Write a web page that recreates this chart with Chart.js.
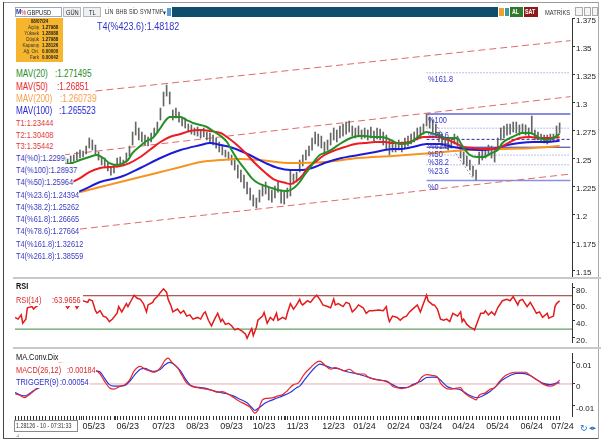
<!DOCTYPE html>
<html><head><meta charset="utf-8">
<script src="https://cdn.jsdelivr.net/npm/chart.js@4.4.1/dist/chart.umd.min.js"></script>
<style>
html,body{margin:0;padding:0;background:#fff;overflow:hidden}
#wrap{position:relative;width:601px;height:441px;background:#fff;overflow:hidden}
#wrap canvas{position:absolute;left:0}
.tx{position:absolute;white-space:pre;transform-origin:0 0;z-index:6}
.bx{position:absolute;z-index:5;box-sizing:border-box}
</style></head><body><div id="wrap">
<canvas id="cMain" width="601" height="280" style="top:8px"></canvas>
<canvas id="cRsi" width="601" height="70" style="top:278px;background:#fff"></canvas>
<canvas id="cMacd" width="601" height="90" style="top:348px;background:#fff"></canvas>
</div>
<script>
// ================= DATA =================
const monthDays   = [43,65,88,110,132,153,175,198,218,240,261,282,304,326,346];
const monthLabels = ['05/23','06/23','07/23','08/23','09/23','10/23','11/23','12/23','01/24','02/24','03/24','04/24','05/24','06/24','07/24'];
const priceTicks  = [1.375,1.35,1.325,1.3,1.275,1.25,1.225,1.2,1.175,1.15];
const rsiTicks    = [80,60,40,20];
const macdTicks   = [0.01,0,-0.01];

// daily bars, sampled every 2 trading days starting at day 30
const candleStartDay = 30, candleStepDays = 2;
const candleHigh = [1.2500,1.2509,1.2491,1.2518,1.2527,1.2554,1.2571,1.2563,1.2607,1.2679,
1.2661,1.2616,1.2554,1.2509,1.2500,1.2455,1.2420,1.2438,1.2500,1.2509,
1.2482,1.2545,1.2607,1.2732,1.2821,1.2768,1.2732,1.2705,1.2688,1.2723,
1.2768,1.2821,1.2946,1.3089,1.3152,1.3089,1.2929,1.2946,1.2911,1.2857,
1.2857,1.2804,1.2795,1.2768,1.2777,1.2750,1.2768,1.2732,1.2723,1.2705,
1.2679,1.2643,1.2616,1.2571,1.2554,1.2527,1.2500,1.2438,1.2393,1.2348,
1.2286,1.2232,1.2170,1.2143,1.2214,1.2259,1.2286,1.2232,1.2214,1.2250,
1.2286,1.2214,1.2196,1.2232,1.2393,1.2357,1.2375,1.2482,1.2527,1.2571,
1.2607,1.2679,1.2732,1.2714,1.2696,1.2643,1.2661,1.2723,1.2768,1.2750,
1.2786,1.2804,1.2821,1.2830,1.2786,1.2768,1.2786,1.2750,1.2768,1.2750,
1.2777,1.2741,1.2768,1.2759,1.2732,1.2705,1.2661,1.2661,1.2634,1.2661,
1.2643,1.2679,1.2696,1.2714,1.2732,1.2768,1.2777,1.2804,1.2893,1.2866,
1.2839,1.2804,1.2732,1.2714,1.2679,1.2670,1.2679,1.2714,1.2696,1.2616,
1.2554,1.2518,1.2482,1.2429,1.2393,1.2554,1.2571,1.2589,1.2616,1.2607,
1.2589,1.2679,1.2768,1.2786,1.2804,1.2804,1.2821,1.2821,1.2795,1.2804,
1.2795,1.2768,1.2875,1.2750,1.2732,1.2714,1.2705,1.2705,1.2714,1.2714,
1.2786,1.2813];
const candleLow = [1.2429,1.2446,1.2429,1.2455,1.2473,1.2482,1.2500,1.2509,1.2536,1.2589,
1.2571,1.2527,1.2482,1.2438,1.2420,1.2384,1.2348,1.2366,1.2420,1.2438,
1.2429,1.2464,1.2518,1.2616,1.2705,1.2661,1.2643,1.2616,1.2607,1.2643,
1.2696,1.2732,1.2839,1.2964,1.3053,1.2982,1.2839,1.2857,1.2821,1.2786,
1.2768,1.2732,1.2714,1.2705,1.2696,1.2679,1.2688,1.2661,1.2634,1.2616,
1.2589,1.2554,1.2527,1.2509,1.2482,1.2438,1.2393,1.2321,1.2286,1.2232,
1.2179,1.2125,1.2071,1.2054,1.2107,1.2161,1.2179,1.2125,1.2107,1.2143,
1.2196,1.2098,1.2089,1.2143,1.2161,1.2268,1.2286,1.2375,1.2429,1.2482,
1.2518,1.2571,1.2625,1.2607,1.2589,1.2554,1.2571,1.2616,1.2661,1.2643,
1.2679,1.2696,1.2714,1.2732,1.2696,1.2679,1.2688,1.2670,1.2679,1.2661,
1.2679,1.2652,1.2670,1.2661,1.2616,1.2571,1.2527,1.2554,1.2554,1.2571,
1.2554,1.2589,1.2607,1.2625,1.2643,1.2661,1.2679,1.2714,1.2786,1.2768,
1.2732,1.2696,1.2643,1.2607,1.2589,1.2571,1.2589,1.2625,1.2607,1.2500,
1.2446,1.2429,1.2393,1.2339,1.2304,1.2446,1.2482,1.2500,1.2527,1.2500,
1.2464,1.2571,1.2661,1.2679,1.2705,1.2714,1.2732,1.2723,1.2705,1.2723,
1.2705,1.2679,1.2714,1.2661,1.2661,1.2643,1.2634,1.2625,1.2643,1.2652,
1.2696,1.2723];

const ma20Days = [30,37,42,48,53,57,61,66,70,73,76,81,85,89,94,97,100,103,107,111,115,120,124,128,133,137,140,144,149,153,157,162,166,170,175,178,181,184,187,191,194,197,200,204,207,211,217,222,226,231,236,240,244,249,255,262,266,273,279,286,288,291,294,299,303,308,312,315,320,324,328,333,336,339,344,348,352];
const ma20 = [1.2438,1.2455,1.2482,1.2509,1.2527,1.2500,1.2455,1.2438,1.2455,1.2482,1.2545,1.2607,1.2652,1.2679,1.2768,1.2830,1.2866,1.2866,1.2866,1.2839,1.2813,1.2795,1.2777,1.2741,1.2696,1.2643,1.2571,1.2482,1.2393,1.2321,1.2277,1.2250,1.2232,1.2214,1.2205,1.2214,1.2241,1.2286,1.2348,1.2420,1.2482,1.2527,1.2545,1.2571,1.2598,1.2634,1.2679,1.2696,1.2696,1.2688,1.2688,1.2679,1.2652,1.2625,1.2634,1.2705,1.2732,1.2705,1.2679,1.2679,1.2634,1.2571,1.2527,1.2509,1.2509,1.2545,1.2571,1.2634,1.2679,1.2705,1.2723,1.2723,1.2705,1.2679,1.2661,1.2679,1.2715];

const ma50Days = [30,37,42,48,55,61,68,74,81,87,94,100,107,113,120,126,133,137,142,149,155,162,168,175,178,181,186,189,194,200,207,213,220,226,233,239,244,249,255,264,270,277,283,290,296,303,309,314,320,326,333,339,346,352];
const ma50 = [1.2250,1.2286,1.2321,1.2375,1.2411,1.2420,1.2429,1.2455,1.2509,1.2571,1.2643,1.2688,1.2714,1.2741,1.2750,1.2741,1.2723,1.2688,1.2634,1.2545,1.2455,1.2366,1.2304,1.2277,1.2268,1.2286,1.2348,1.2411,1.2464,1.2527,1.2571,1.2598,1.2625,1.2634,1.2643,1.2643,1.2634,1.2634,1.2643,1.2688,1.2688,1.2679,1.2643,1.2598,1.2589,1.2580,1.2580,1.2598,1.2643,1.2679,1.2688,1.2679,1.2679,1.2685];

const ma100Days = [30,42,55,68,81,94,107,120,126,133,139,149,162,170,178,186,192,200,211,222,233,244,249,257,266,275,283,292,301,309,318,326,335,344,352];
const ma100 = [1.2165,1.2205,1.2286,1.2330,1.2411,1.2500,1.2571,1.2616,1.2634,1.2616,1.2598,1.2545,1.2455,1.2411,1.2393,1.2393,1.2411,1.2455,1.2500,1.2527,1.2554,1.2580,1.2580,1.2598,1.2625,1.2625,1.2598,1.2580,1.2571,1.2580,1.2616,1.2634,1.2643,1.2643,1.2655];

const ma200Days = [30,42,55,68,81,94,107,120,133,145,158,179,200,222,244,270,292,314,335,352];
const ma200 = [1.2160,1.2196,1.2241,1.2286,1.2330,1.2375,1.2420,1.2464,1.2482,1.2491,1.2482,1.2455,1.2464,1.2500,1.2518,1.2545,1.2571,1.2580,1.2589,1.2607];

// trend channel (T1 lower, T2 middle, T3 upper): start day/value -> end day/value
const trendNames = ['T1','T2','T3'];
const trendStartDay = [42,31,52];
const trendStartVal = [1.1866,1.2527,1.3098];
const trendEndDay = [359,359,359];
const trendEndVal = [1.2357,1.3048,1.3548];

// Fibonacci levels (T4)
const fibStartDay = 266, fibEndDay = 359;
const fibNames  = ['%161.8','%100','%78.6','%61.8','%50','%38.2','%23.6','%0'];
const fibValues = [1.32612,1.28937,1.27664,1.26665,1.25964,1.25262,1.24394,1.2299];
const fibAnchorDays = [267,297];
const fibAnchorVals = [1.28937,1.2299];

const rsiDays = [0,2,4,5,7,8,11,12,13,16,20,23,26,29,32,34,36,38,40,42,44,47,48,50,52,53,55,57,59,61,63,66,67,69,70,72,73,75,77,79,81,83,85,86,89,90,92,94,96,98,99,101,102,105,107,109,111,113,115,118,120,122,123,125,127,129,131,133,134,136,138,140,142,144,147,149,150,152,153,154,156,157,160,161,163,165,167,169,170,173,175,176,178,180,182,184,185,186,189,191,193,195,197,199,202,204,206,207,209,212,214,216,218,220,222,225,227,229,231,235,238,240,241,242,244,247,249,251,253,255,257,260,262,264,266,267,270,271,273,275,277,279,281,283,286,288,289,290,292,294,296,297,299,301,303,304,306,308,310,312,315,318,320,322,325,326,328,331,333,335,337,339,341,344,345,348,349,350,352];
const rsi = [44,42,47,37,42,55.6,57,54,56,60,63,61,63,59,61,55,60,62,55,60.6,64,62,65.6,64,52,49,52,45.6,44,39,42,49,57,50.6,54,60.6,57,64,70.6,67,65.6,60.6,50.6,59,62,65.6,69,74,78.3,74,65.6,57,50.6,54,49,52,45.6,47,42,44,42,49,50.6,40.6,34,42,49,39,42,35.6,37,34,29,30.6,27.3,24,19,27.3,30.6,22.3,32.3,40.6,45.6,50,37,44,40.6,49,40.6,44,42,49,60.6,54,59,65.6,60.6,59,64,62,67,70.6,65.6,59,57,55.6,66,59,60.6,57,62,60.6,50.6,54,59,55.6,49,52,52,53,52,57,45.6,39,45.6,44,40.6,44,45.6,50.6,54,59,50.6,60.6,70.6,64,59,59,54,42,40.6,42,39,49,45.6,50.6,39,42,35.6,32.3,30.6,29,39,49,49,52,47,50.6,47,55.6,64,65.6,64,69,59,64,65.6,57,62,55.6,49,50.6,44,49,43,45.6,57,60.6,63.97];
const rsiUpper = 70, rsiLower = 30;

const macdDays = [0,3,6,10,13,17,22,27,32,37,42,47,52,55,58,61,64,68,71,74,77,81,84,87,90,94,97,99,101,105,108,111,114,118,121,124,128,131,134,139,142,145,149,152,155,157,160,163,167,170,173,176,180,183,187,191,194,197,200,204,207,210,213,216,220,223,226,228,231,235,238,241,244,247,250,253,257,260,263,266,270,273,275,278,281,284,288,290,293,296,298,300,304,307,310,313,317,320,323,326,330,333,336,339,342,346,349,352];
const macd = [-0.0045,-0.0052,-0.0063,-0.0045,-0.0027,0.0010,0.0055,0.0096,0.0094,0.0082,0.0074,0.0068,0.0063,0.0046,0.0011,-0.0017,-0.0024,-0.0010,-0.0003,0.0018,0.0060,0.0081,0.0068,0.0060,0.0054,0.0075,0.0110,0.0119,0.0103,0.0075,0.0039,0.0004,-0.0010,-0.0017,-0.0021,-0.0024,-0.0031,-0.0038,-0.0035,-0.0052,-0.0066,-0.0080,-0.0094,-0.0108,-0.0134,-0.0122,-0.0073,-0.0066,-0.0063,-0.0055,-0.0049,-0.0031,-0.0003,0.0004,0.0046,0.0075,0.0096,0.0105,0.0089,0.0068,0.0075,0.0068,0.0060,0.0068,0.0049,0.0046,0.0046,0.0032,0.0025,0.0018,0.0016,0.0011,-0.0010,-0.0017,-0.0021,-0.0017,-0.0007,0.0004,0.0032,0.0043,0.0039,0.0032,0.0004,-0.0017,-0.0024,-0.0021,-0.0017,-0.0038,-0.0055,-0.0066,-0.0073,-0.0052,-0.0041,-0.0024,-0.0017,0.0011,0.0039,0.0049,0.0054,0.0054,0.0054,0.0039,0.0025,0.0011,-0.0003,-0.0010,-0.0003,0.0018];
const trigDays = [0,6,12,17,22,27,32,36,42,47,52,55,58,61,64,68,71,74,77,81,84,87,90,94,97,100,103,107,110,113,116,120,124,128,132,137,141,145,150,153,155,158,162,165,169,173,178,182,184,187,191,194,197,200,204,207,210,213,216,220,223,227,231,236,240,244,249,253,257,262,266,270,273,276,279,283,288,292,296,299,303,307,311,315,320,324,328,333,337,341,346,350,352];
const trig = [-0.0040,-0.0055,-0.0031,-0.0012,0.0020,0.0065,0.0082,0.0086,0.0080,0.0070,0.0060,0.0055,0.0025,-0.0003,-0.0010,-0.0010,-0.0007,0.0011,0.0039,0.0068,0.0072,0.0063,0.0058,0.0068,0.0089,0.0100,0.0089,0.0060,0.0025,-0.0003,-0.0013,-0.0017,-0.0021,-0.0031,-0.0038,-0.0045,-0.0055,-0.0069,-0.0087,-0.0108,-0.0122,-0.0108,-0.0087,-0.0077,-0.0066,-0.0055,-0.0038,-0.0017,-0.0010,0.0018,0.0054,0.0077,0.0092,0.0086,0.0075,0.0072,0.0068,0.0060,0.0054,0.0049,0.0043,0.0035,0.0025,0.0018,0.0011,-0.0003,-0.0017,-0.0017,-0.0003,0.0011,0.0030,0.0032,0.0030,0.0011,-0.0010,-0.0021,-0.0027,-0.0045,-0.0059,-0.0063,-0.0052,-0.0035,-0.0010,0.0018,0.0039,0.0049,0.0049,0.0039,0.0021,0.0004,-0.0003,0.0004,0.0005];

// ================= FONT =================
const mctx=document.createElement('canvas').getContext('2d');
function wOf(f){ mctx.font='20px '+f; return mctx.measureText('MAV(20):1.271495 WWW').width; }
const regW=wOf('"Liberation Sans", monospace');
let FONT='"Liberation Sans", Arial, sans-serif', squeeze=true;
for (const f of ['"Liberation Sans Narrow"','"Arial Narrow"']) {
  if (wOf(f+', "Liberation Sans", monospace') < regW*0.9) { FONT=f+', sans-serif'; squeeze=false; break; }
}
const TICKFONT = squeeze ? '"Liberation Sans", sans-serif' : FONT;
const TICKSIZE = squeeze ? 8 : 9;

const wrap=document.getElementById('wrap');
function txt(t,left,center,size,color,o={}){
  const d=document.createElement('div'); d.className='tx'; d.textContent=t;
  const lh=o.lh||Math.round(size*1.3);
  Object.assign(d.style,{left:left+'px',top:(center-lh/2)+'px',fontSize:size+'px',lineHeight:lh+'px',color:color,
    fontFamily:o.font||FONT,fontWeight:o.bold?'bold':'normal',background:o.bg===undefined?'#fff':o.bg});
  if(o.w){d.style.width=(squeeze&&!o.font? o.w/0.82 : o.w)+'px';}
  if(o.align){d.style.textAlign=o.align;}
  if(squeeze && !o.font) d.style.transform='scaleX(0.82)';
  wrap.appendChild(d); return d;
}
function box(left,top,w,h,bg,border,z){
  const d=document.createElement('div'); d.className='bx';
  Object.assign(d.style,{left:left+'px',top:top+'px',width:w+'px',height:h+'px',background:bg||'transparent',border:border||'none'});
  if(z!==undefined) d.style.zIndex=z;
  wrap.appendChild(d); return d;
}

// ================= CHARTS =================
const pts=(xs,ys)=>xs.map((x,i)=>({x:x,y:ys[i]}));
const X_MIN=0, X_MAX=360;
const base={responsive:false,maintainAspectRatio:false,animation:false,events:[],
  plugins:{legend:{display:false},tooltip:{enabled:false}}};
function yAxis(min,max,ticks,fmt){
  return {type:'linear',position:'right',min:min,max:max,
    afterBuildTicks:s=>{s.ticks=ticks.map(v=>({value:v}));},
    afterFit:s=>{s.width=29;},
    ticks:{callback:fmt,font:{size:TICKSIZE,family:TICKFONT},color:'#222',padding:1,labelOffset:3,autoSkip:false},
    grid:{drawOnChartArea:false,drawTicks:true,tickLength:3,color:'#333'},
    border:{display:true,color:'#333',width:1}};
}
const xHidden={type:'linear',min:X_MIN,max:X_MAX,display:false,offset:false};

const candleData=candleHigh.map((h,i)=>({x:candleStartDay+i*candleStepDays,y:[candleLow[i],h]}));
const mainSets=[];
mainSets.push({label:'MAV(20)',data:pts(ma20Days,ma20),borderColor:'#239023',borderWidth:2,pointRadius:0,cubicInterpolationMode:'monotone',order:1});
mainSets.push({label:'MAV(50)',data:pts(ma50Days,ma50),borderColor:'#ec1c24',borderWidth:2,pointRadius:0,cubicInterpolationMode:'monotone',order:2});
mainSets.push({label:'MAV(100)',data:pts(ma100Days,ma100),borderColor:'#1c1cd8',borderWidth:2,pointRadius:0,cubicInterpolationMode:'monotone',order:3});
mainSets.push({label:'MAV(200)',data:pts(ma200Days,ma200),borderColor:'#f7931e',borderWidth:2,pointRadius:0,cubicInterpolationMode:'monotone',order:4});
mainSets.push({type:'bar',label:'bars',data:candleData,backgroundColor:'#666',borderWidth:0,barThickness:1,grouped:false,order:6});
trendNames.forEach((n,i)=>mainSets.push({label:n,data:[{x:trendStartDay[i],y:trendStartVal[i]},{x:trendEndDay[i],y:trendEndVal[i]}],
  borderColor:'#e06a6a',borderWidth:1,borderDash:[7,4],pointRadius:0,order:8}));
const fibStyle={'%100':{c:'#5f66d6',w:1.5,d:[]},'%0':{c:'#8a90e6',w:1.5,d:[]},'%50':{c:'#2a2aa0',w:1,d:[]},'%61.8':{c:'#2a2aa0',w:1,d:[3,2]}};
fibNames.forEach((n,i)=>{const st=fibStyle[n]||{c:'#7a80d8',w:1,d:[1,2]};
  mainSets.push({label:n,data:[{x:fibStartDay,y:fibValues[i]},{x:fibEndDay,y:fibValues[i]}],borderColor:st.c,borderWidth:st.w,borderDash:st.d,pointRadius:0,order:9});});
mainSets.push({label:'anchor',data:pts(fibAnchorDays,fibAnchorVals),borderColor:'#999',borderWidth:1,borderDash:[2,2],pointRadius:0,order:9});

const mainChart=new Chart(document.getElementById('cMain'),{type:'line',data:{datasets:mainSets},
  options:Object.assign({},base,{layout:{padding:{left:15,top:10,bottom:10,right:0}},
    scales:{x:xHidden,y:yAxis(1.1429,1.375,priceTicks,v=>String(v))}})});

const rsiChart=new Chart(document.getElementById('cRsi'),{type:'line',data:{datasets:[
  {data:pts(rsiDays,rsi),borderColor:'#e31b1b',borderWidth:1.5,pointRadius:0,tension:0,order:1},
  {data:[{x:X_MIN,y:rsiUpper},{x:X_MAX,y:rsiUpper}],borderColor:'#9c2b2b',borderWidth:1,pointRadius:0,order:2},
  {data:[{x:X_MIN,y:rsiLower},{x:X_MAX,y:rsiLower}],borderColor:'#3e8a3e',borderWidth:1,pointRadius:0,order:2}
]},options:Object.assign({},base,{layout:{padding:{left:15,top:0,bottom:0,right:0}},
  scales:{x:xHidden,y:yAxis(14.3,84.3,rsiTicks,v=>v+'.')}})});

const xTickDays=[];
for(let d=0; d<=352; d+=2) xTickDays.push(d);
monthDays.forEach(d=>{ if(xTickDays.indexOf(d)<0) xTickDays.push(d); });
xTickDays.sort((a,b)=>a-b);

const macdChart=new Chart(document.getElementById('cMacd'),{type:'line',data:{datasets:[
  {data:pts(macdDays,macd),borderColor:'#e8262b',borderWidth:1.2,pointRadius:0,cubicInterpolationMode:'monotone',order:1},
  {data:pts(trigDays,trig),borderColor:'#2637e0',borderWidth:1.2,pointRadius:0,cubicInterpolationMode:'monotone',order:2},
  {data:[{x:X_MIN,y:0},{x:X_MAX,y:0}],borderColor:'#e9aaaa',borderWidth:1,pointRadius:0,order:3}
]},options:Object.assign({},base,{layout:{padding:{left:15,top:0,bottom:0,right:0}},
  scales:{
    x:{type:'linear',min:X_MIN,max:X_MAX,offset:false,position:'bottom',
      afterBuildTicks:s=>{s.ticks=xTickDays.map(v=>({value:v}));},
      afterFit:s=>{s.height=22;},
      ticks:{autoSkip:false,maxRotation:0,minRotation:0,align:'start',labelOffset:1,padding:1,
        font:{size:squeeze?9:10,family:TICKFONT},color:'#222',
        callback:v=>{const i=monthDays.indexOf(v);return i>=0?monthLabels[i]:'';}},
      grid:{drawOnChartArea:false,drawTicks:true,tickLength:4,color:'#333'},
      border:{display:false}},
    y:yAxis(-0.01477,0.01392,macdTicks,v=>String(v))}})});

// ================= OVERLAY TEXT / DECOR =================
box(3,2,596,1,'#9a9a9a'); box(3,2,1,437,'#444'); box(3,438,596,1,'#555'); box(598,2,1,437,'#aaa');
box(13,277,588,2,'#c9c9c9',undefined,7); box(13,347,588,2,'#c9c9c9',undefined,7);
// toolbar
box(15,7,47,10,'#fff','1px solid #9aaab8');
txt('M',16,12,8,'#1f3fa8',{bold:true,bg:'transparent'});
txt('%',21,12,7,'#d02020',{bg:'transparent'});
txt('GBPUSD',27,12,7,'#222',{bg:'transparent'});
box(63,7,18,10,'#eef0f2','1px solid #b0b8c0'); txt('GÜN',66,12,7,'#222',{bg:'transparent'});
box(83,7,18,10,'#eef0f2','1px solid #b0b8c0'); txt('TL',89,12,7,'#222',{bg:'transparent'});
txt('LİN',105,12,6.5,'#333',{bg:'transparent'}); txt('BHB',116,12,6.5,'#333',{bg:'transparent'});
txt('SİD',129,12,6.5,'#333',{bg:'transparent'}); txt('SYM',140,12,6.5,'#333',{bg:'transparent'});
txt('TMP',152,12,6.5,'#333',{bg:'transparent'}); txt('▾',163,12,7,'#333',{bg:'transparent'});
box(167,8,4,8,'#5aa0d8');
box(172,7,326,10,'#0e4e6c');
box(499,8,5,8,'#f0a030'); box(505,8,4,8,'#3a9a9a');
box(510,7,13,10,'#2d7a2d'); txt('AL',512,12,6.5,'#fff',{bg:'transparent',bold:true});
box(524,7,14,10,'#8c1a1a'); txt('SAT',525,12,6.5,'#fff',{bg:'transparent',bold:true});
txt('MATRİKS',545,12,7,'#333',{bg:'transparent'});
box(575,7,8,9,'#f4f4f4','1px solid #aaa'); box(584,7,7,9,'#f4f4f4','1px solid #aaa'); box(592,7,6,9,'#f4f4f4','1px solid #aaa');

// info box
box(16,18,47,44,'#f5b52e');
txt('08/07/24',16,21.5,5.5,'#222',{bg:'transparent',bold:true,w:47,align:'center'});
const infoNames=['Açılış','Yüksek','Düşük','Kapanış','Ağ. Ort.','Fark'];
const infoVals=['1.27988','1.28088','1.27988','1.28126','0.00000','0.00042'];
infoNames.forEach((n,i)=>{ txt(n,16,27.5+i*6,5.5,'#333',{bg:'transparent',w:23,align:'right'});
  txt(infoVals[i],42,27.5+i*6,5.5,'#222',{bg:'transparent',bold:true}); });

txt('T4(%423.6):1.48182',97,26,11,'#3434c8');

// legend rows: white row backgrounds hide the lines beneath, as in the original
const C_G='#2b8a2b', C_R='#e6262b', C_O='#f4a24a', C_B='#2a2ad0', C_T='#e33b3b', C_F='#3b3bc4';
box(15,67,77,12.5,'#fff'); box(15,79.5,73,12.5,'#fff'); box(15,92,80,12.5,'#fff'); box(15,104.5,79,12,'#fff');
txt('MAV(20)',16,73,10,C_G);  txt(':1.271495',55,73,10,C_G);
txt('MAV(50)',16,86,10,C_R);  txt(':1.26851',57,86,10,C_R);
txt('MAV(200)',16,98.5,10,C_O); txt(':1.260739',60,98.5,10,C_O);
txt('MAV(100)',16,110.5,10,C_B); txt(':1.265523',59,110.5,10,C_B);
const tRows=[['T1:1.23444',123,C_T],['T2:1.30408',135,C_T],['T3:1.35442',146.5,C_T],
 ['T4(%0):1.2299',158.5,C_F],['T4(%100):1.28937',170.5,C_F],['T4(%50):1.25964',182.5,C_F],['T4(%23.6):1.24394',195,C_F],
 ['T4(%38.2):1.25262',207.5,C_F],['T4(%61.8):1.26665',219.5,C_F],['T4(%78.6):1.27664',231.5,C_F],
 ['T4(%161.8):1.32612',244,C_F],['T4(%261.8):1.38559',256.5,C_F]];
tRows.forEach(r=>txt(r[0],16,r[1],9,r[2],{lh:12.5}));

const xs=mainChart.scales.x, ys=mainChart.scales.y;
fibNames.forEach((n,i)=>{ const py=8+ys.getPixelForValue(fibValues[i]);
  txt(n,xs.getPixelForValue(fibStartDay)+1,py+6.5,9,'#3535c8',{bg:'transparent'}); });

box(15,281,12,11,'#fff'); box(15,294,68,12,'#fff');
txt('RSI',16,286,9,'#111',{bold:true});
txt('RSI(14)',16,300,9,'#e0282b'); txt(':63.9656',52,300,9,'#e0282b');
box(15,351,43,12,'#fff'); box(15,363,81,12.5,'#fff'); box(15,375.5,75,12,'#fff');
txt('MA.Conv.Dix',16,357,9,'#111');
txt('MACD(26,12)',16,369.5,9,'#e0282b'); txt(':0.00184',67,369.5,9,'#e0282b');
txt('TRIGGER(9)',16,381.5,9,'#2a2ad0'); txt(':0.00054',60,381.5,9,'#2a2ad0');

box(14,420,64,12,'#fff','1px solid #8a8a8a',8);
const st=txt('1.28126 - 10 - 07:31:33',16,426,6.5,'#333',{bg:'transparent'}); st.style.zIndex=9;
txt('⊿',16,435,5,'#888',{bg:'transparent'});
txt('↻',580,428,9,'#2a6acf',{bg:'transparent',font:'"DejaVu Sans", sans-serif'});
txt('◂▸',589,428,7,'#2a6acf',{bg:'transparent',font:'"DejaVu Sans", sans-serif'});
</script></body></html>
